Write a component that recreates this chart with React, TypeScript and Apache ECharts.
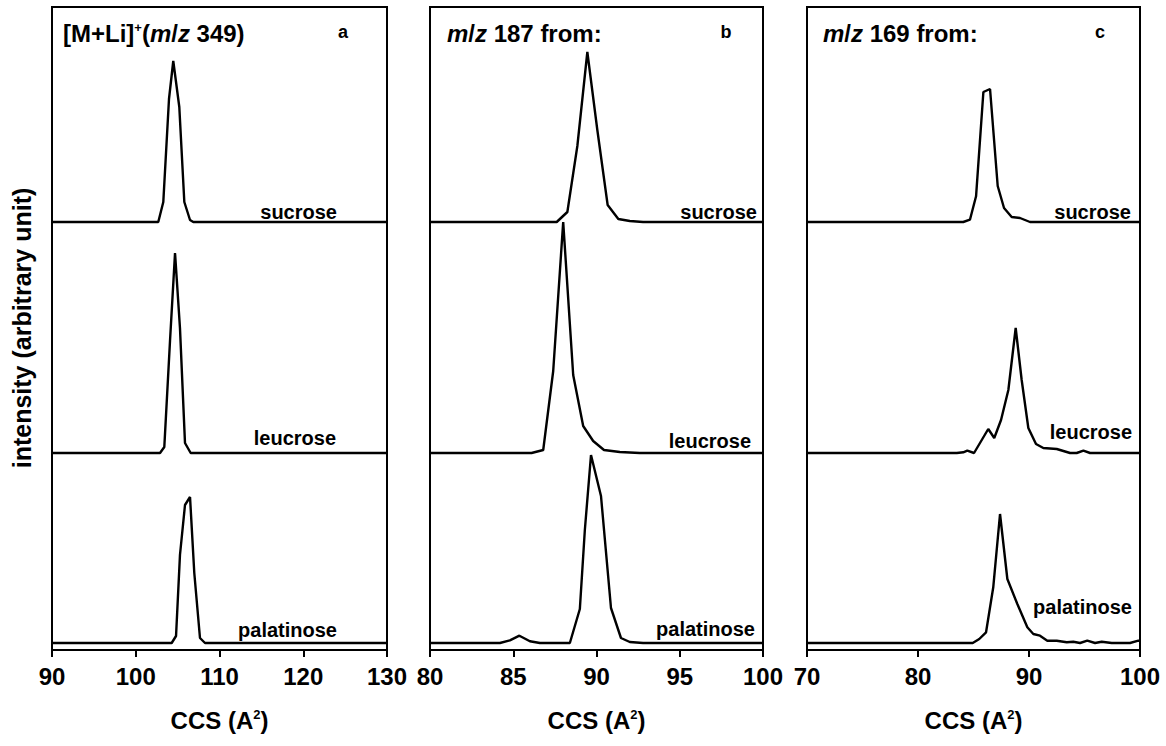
import React, { useEffect, useRef } from "react";
import * as echarts from "echarts";

// ---------- data ----------
const traceNames = ["sucrose", "leucrose", "palatinose"];
// vertical offsets of each stacked trace (arbitrary intensity units)
const traceOffsets = [428, 197, 7];
const yMax = 643;

const xMins = [90, 80, 70];
const xMaxs = [130, 100, 100];
const xIntervals = [10, 5, 10];

// panel a : [M+Li]+ (m/z 349)
const aSucroseCcs = [90, 102.69, 103.29, 103.97, 104.48, 105.2, 105.8, 106.48, 106.87, 130];
const aSucroseInt = [0, 0, 20, 123, 161, 115, 20, 2, 0, 0];
const aLeucroseCcs = [90, 102.9, 103.41, 104.09, 104.69, 105.28, 105.88, 106.56, 130];
const aLeucroseInt = [0, 0, 6, 112, 200, 125, 10, 0, 0];
const aPalatinoseCcs = [90, 104.29, 104.81, 105.28, 105.88, 106.48, 106.99, 107.67, 108.27, 130];
const aPalatinoseInt = [0, 0, 7, 88, 138, 146, 70, 5, 0, 0];

// panel b : m/z 187
const bSucroseCcs = [80, 87.61, 88.25, 88.85, 89.45, 90.05, 90.67, 91.31, 92.0, 92.8, 100];
const bSucroseInt = [0, 0, 10, 76, 170, 92, 17, 3, 1, 0, 0];
const bLeucroseCcs = [80, 86.1, 86.8, 87.4, 88.0, 88.6, 89.2, 89.8, 90.45, 91.4, 92.6, 100];
const bLeucroseInt = [0, 0, 3, 82, 231, 78, 27, 12, 3, 1, 0, 0];
const bPalatinoseCcs = [80, 84.2, 84.8, 85.37, 86.0, 86.6, 88.4, 89.0, 89.3, 89.67, 90.27, 90.87, 91.47, 92.0, 92.8, 100];
const bPalatinoseInt = [0, 0, 2.7, 7.3, 1.7, 0, 0, 34, 113, 188, 147, 35, 5, 1, 0, 0];

// panel c : m/z 169
const cSucroseCcs = [70, 84.08, 84.68, 85.23, 85.89, 86.49, 87.18, 87.75, 88.44, 89.19, 90.09, 100];
const cSucroseInt = [0, 0, 2.3, 25.7, 130, 133, 36, 14, 5, 4, 0, 0];
const cLeucroseCcs = [70, 83.5, 84.08, 84.44, 85.05, 86.33, 86.87, 87.48, 88.14, 88.8, 89.34, 89.94, 90.63, 91.29, 92.5, 93.7, 94.3, 94.9, 95.5, 100];
const cLeucroseInt = [0, 0, 0.7, 2.3, 0, 24, 15, 33, 63, 125, 73, 25, 9, 5, 4, 0, 0, 2.3, 0, 0];
const cPalatinoseCcs = [70, 84.93, 85.52, 86.13, 86.78, 87.39, 88.05, 88.95, 89.85, 90.39, 90.99, 91.65, 92.5, 93.4, 93.99, 94.6, 95.25, 95.95, 96.55, 97.45, 99.1, 99.85, 100];
const cPalatinoseInt = [0, 0, 4, 10.7, 55.7, 129, 64, 39, 15.7, 9, 7.3, 2.3, 2.3, 0.7, 1.3, 0, 2.3, 0, 1.3, 0, 0, 2.3, 2.3];

const panelTraces = [
  [[aSucroseCcs, aSucroseInt], [aLeucroseCcs, aLeucroseInt], [aPalatinoseCcs, aPalatinoseInt]],
  [[bSucroseCcs, bSucroseInt], [bLeucroseCcs, bLeucroseInt], [bPalatinoseCcs, bPalatinoseInt]],
  [[cSucroseCcs, cSucroseInt], [cLeucroseCcs, cLeucroseInt], [cPalatinoseCcs, cPalatinoseInt]],
];

const panelLetters = ["a", "b", "c"];
const xAxisTitle = "{n|CCS (A}{sup|2}{n|)}";
const yAxisTitle = "intensity (arbitrary unit)";

// ---------- layout ----------
const FONT = '"Liberation Sans", Arial, Helvetica, sans-serif';
const grids = [
  { left: 52, width: 335 },
  { left: 430, width: 333 },
  { left: 807, width: 333 },
];
const GRID_TOP = 7;
const GRID_HEIGHT = 643;

// label anchor positions (right edge x, center y) per panel per trace
const labelPos = [
  [[337, 212], [336, 438], [337, 630]],
  [[757, 212], [751, 441], [755, 629]],
  [[1131, 212], [1132, 432], [1132, 607]],
];

export default function App() {
  const ref = useRef<HTMLDivElement>(null);

  useEffect(() => {
    if (!ref.current) return;
    const chart = echarts.init(ref.current, null, { renderer: "svg" });

    const gridOpts = grids.map((g) => ({
      left: g.left,
      width: g.width,
      top: GRID_TOP,
      height: GRID_HEIGHT,
      show: true,
      borderColor: "#000",
      borderWidth: 2,
      backgroundColor: "transparent",
      containLabel: false,
    }));

    const xAxes = grids.map((_, i) => ({
      type: "value",
      gridIndex: i,
      min: xMins[i],
      max: xMaxs[i],
      interval: xIntervals[i],
      name: xAxisTitle,
      nameLocation: "middle",
      nameGap: 58,
      nameTextStyle: {
        fontFamily: FONT,
        fontWeight: "bold",
        fontSize: 24,
        color: "#000",
        rich: {
          n: { fontFamily: FONT, fontWeight: "bold", fontSize: 24, color: "#000" },
          sup: { fontFamily: FONT, fontWeight: "bold", fontSize: 13, color: "#000", padding: [0, 0, 12, 0] },
        },
      },
      axisLine: { show: true, onZero: false, lineStyle: { color: "#000", width: 2 } },
      axisTick: { show: true, inside: false, length: 7, lineStyle: { color: "#000", width: 2 } },
      axisLabel: {
        show: true,
        margin: 14,
        fontFamily: FONT,
        fontWeight: "bold",
        fontSize: 24,
        color: "#000",
        showMinLabel: true,
        showMaxLabel: true,
      },
      splitLine: { show: false },
    }));

    const yAxes = grids.map((_, i) => ({
      type: "value",
      gridIndex: i,
      min: 0,
      max: yMax,
      show: false,
    }));

    const series: any[] = [];
    panelTraces.forEach((traces, p) => {
      traces.forEach(([ccs, inten], t) => {
        series.push({
          type: "line",
          name: `${panelLetters[p]}-${traceNames[t]}`,
          xAxisIndex: p,
          yAxisIndex: p,
          data: ccs.map((x, k) => [x, inten[k] + traceOffsets[t]]),
          showSymbol: false,
          symbol: "none",
          smooth: false,
          lineStyle: { color: "#000", width: 2.4 },
          clip: true,
        });
      });
    });

    const graphic: any[] = [];
    // trace labels
    labelPos.forEach((row, p) =>
      row.forEach(([x, y], t) => {
        graphic.push({
          type: "text",
          x,
          y,
          style: {
            text: traceNames[t],
            fill: "#000",
            font: `bold 20px ${FONT}`,
            align: "right",
            textAlign: "right",
            verticalAlign: "middle",
            textVerticalAlign: "middle",
          },
        });
      })
    );

    const titleRich = {
      sup: { fontSize: 13, fontWeight: "bold", fontFamily: FONT, fill: "#000", padding: [0, 0, 12, 0] },
      i: { fontStyle: "italic", fontWeight: "bold", fontSize: 24, fontFamily: FONT, fill: "#000" },
      n: { fontWeight: "bold", fontSize: 24, fontFamily: FONT, fill: "#000" },
    };
    const titles = [
      { x: 63, text: "{n|[M+Li]}{sup|+}{n|(}{i|m}{n|/}{i|z}{n| 349)}" },
      { x: 447, text: "{i|m}{n|/}{i|z}{n| 187 from:}" },
      { x: 823, text: "{i|m}{n|/}{i|z}{n| 169 from:}" },
    ];
    titles.forEach((tt) =>
      graphic.push({
        type: "text",
        x: tt.x,
        y: 33,
        style: {
          text: tt.text,
          rich: titleRich,
          fill: "#000",
          font: `bold 24px ${FONT}`,
          align: "left",
          textAlign: "left",
          verticalAlign: "middle",
          textVerticalAlign: "middle",
        },
      })
    );
    const letterX = [343, 726, 1100];
    letterX.forEach((x, i) =>
      graphic.push({
        type: "text",
        x,
        y: 32,
        style: {
          text: panelLetters[i],
          fill: "#000",
          font: `bold 18px ${FONT}`,
          align: "center",
          textAlign: "center",
          verticalAlign: "middle",
          textVerticalAlign: "middle",
        },
      })
    );
    // y axis title
    graphic.push({
      type: "text",
      x: 22,
      y: 328,
      rotation: Math.PI / 2,
      style: {
        text: yAxisTitle,
        fill: "#000",
        font: `bold 25px ${FONT}`,
        align: "center",
        textAlign: "center",
        verticalAlign: "middle",
        textVerticalAlign: "middle",
      },
    });

    chart.setOption({
      animation: false,
      backgroundColor: "#fff",
      grid: gridOpts,
      xAxis: xAxes,
      yAxis: yAxes,
      series,
      graphic,
    });

    return () => chart.dispose();
  }, []);

  return <div ref={ref} style={{ width: 1166, height: 746, position: "absolute", left: 0, top: 0 }} />;
}
